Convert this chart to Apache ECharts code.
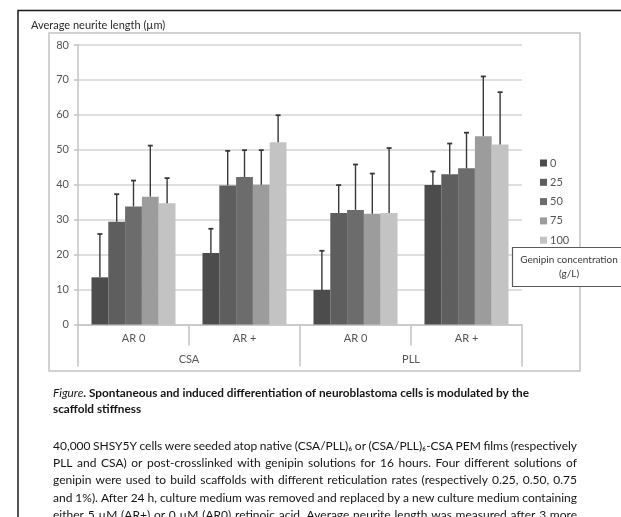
<!DOCTYPE html>
<html>
<head>
<meta charset="utf-8">
<title>Average neurite length</title>
<script src="https://cdn.jsdelivr.net/npm/echarts@6/dist/echarts.min.js"></script>
<style>
  html, body { margin: 0; padding: 0; background: #ffffff; }
  #chart { width: 621px; height: 517px; }
</style>
</head>
<body>
<div id="chart"></div>
<script>
// Conditions on the x axis: retinoic acid treatment (inner row) within each film type (outer row)
const treatments = ['AR 0', 'AR +', 'AR 0', 'AR +'];
const films = ['CSA', 'PLL'];

// Genipin concentrations (g/L), one bar series each
const concentrations = ['0', '25', '50', '75', '100'];

// Mean neurite length (µm) per condition, in the order of `treatments`
const mean0   = [13.5, 20.5,  9.9, 39.9];
const mean25  = [29.4, 39.8, 31.9, 43.0];
const mean50  = [33.8, 42.2, 32.8, 44.7];
const mean75  = [36.6, 40.0, 31.7, 53.9];
const mean100 = [34.7, 52.2, 31.9, 51.5];

// Standard deviation (µm), drawn as upper error bars
const sd0   = [12.4,  6.9, 11.2,  3.9];
const sd25  = [ 7.9,  9.9,  8.0,  8.8];
const sd50  = [ 7.4,  7.7, 13.0, 10.2];
const sd75  = [14.6,  9.9, 11.5, 17.1];
const sd100 = [ 7.2,  7.7, 18.6, 15.0];

// Value axis ticks
const yMin = 0, yMax = 80, yStep = 10;

// Caption
const captionTitleItalic = 'Figure';
const captionTitleBold = '. Spontaneous and induced differentiation of neuroblastoma cells is modulated by the';
const captionTitle2 = 'scaffold stiffness';
const captionBody = [
  '40,000 SHSY5Y cells were seeded atop native (CSA/PLL)\u2086 or (CSA/PLL)\u2086-CSA PEM films (respectively',
  'PLL and CSA) or post-crosslinked with genipin solutions for 16 hours. Four different solutions of',
  'genipin were used to build scaffolds with different reticulation rates (respectively 0.25, 0.50, 0.75',
  'and 1%). After 24 h, culture medium was removed and replaced by a new culture medium containing',
  'either 5 \u00b5M (AR+) or 0 \u00b5M (AR0) retinoic acid. Average neurite length was measured after 3 more'
];

const means = [mean0, mean25, mean50, mean75, mean100];
const sds = [sd0, sd25, sd50, sd75, sd100];
const barColors = ['#4c4c4c', '#5e5e5e', '#6c6c6c', '#9c9c9c', '#c3c3c3'];

const FONT = 'Lato, "Open Sans", sans-serif';
const CATEGORY_GAP = 0.243;

const chart = echarts.init(document.getElementById('chart'), null, { renderer: 'canvas' });

// Bars
const barSeries = concentrations.map((name, k) => ({
  name: name,
  type: 'bar',
  xAxisIndex: 0,
  yAxisIndex: 0,
  barGap: '0%',
  barCategoryGap: (CATEGORY_GAP * 100) + '%',
  itemStyle: { color: barColors[k] },
  data: means[k],
  z: 2
}));

// Upper error bars, placed over the matching bar of each group
const errorSeries = concentrations.map((name, k) => ({
  type: 'custom',
  xAxisIndex: 0,
  yAxisIndex: 0,
  silent: true,
  z: 3,
  encode: { x: 0, y: 1 },
  data: treatments.map((t, i) => [i, means[k][i], sds[k][i]]),
  renderItem: function (params, api) {
    const i = api.value(0);
    const m = api.value(1);
    const s = api.value(2);
    const base = api.coord([i, m]);
    const tip = api.coord([i, m + s]);
    const band = api.size([1, 0])[0];
    const bw = band * (1 - CATEGORY_GAP) / concentrations.length;
    const x = base[0] + (k - (concentrations.length - 1) / 2) * bw;
    return {
      type: 'group',
      children: [
        { type: 'line', shape: { x1: x, y1: base[1], x2: x, y2: tip[1] },
          style: { stroke: '#383838', lineWidth: 1.4 } },
        { type: 'line', shape: { x1: x - 2.5, y1: tip[1], x2: x + 2.5, y2: tip[1] },
          style: { stroke: '#383838', lineWidth: 1.8 } }
      ]
    };
  }
}));

// Justified caption lines: measure words with the same font and spread the spaces
const measureCtx = document.createElement('canvas').getContext('2d');
function justifiedLine(text, x0, x1, y, font) {
  measureCtx.font = font;
  const words = text.split(' ');
  const widths = words.map(w => measureCtx.measureText(w).width);
  const total = widths.reduce((a, b) => a + b, 0);
  const gap = words.length > 1 ? (x1 - x0 - total) / (words.length - 1) : 0;
  const out = [];
  let x = x0;
  words.forEach((w, j) => {
    out.push({
      type: 'text', x: x, y: y, z: 10, silent: true,
      style: { text: w, font: font, fill: '#141414', textVerticalAlign: 'middle', verticalAlign: 'middle' }
    });
    x += widths[j] + gap;
  });
  return out;
}

const bodyFont = 'normal 12px ' + FONT;
const caption = [];
const lineYs = [446, 463.3, 480.6, 497.9, 515.2];
captionBody.forEach((line, i) => {
  caption.push.apply(caption, justifiedLine(line, 53, 577, lineYs[i], bodyFont));
});

const graphics = [
  // page frame (top and left edges)
  { type: 'polyline', z: 0, silent: true,
    shape: { points: [[18, 517], [18, 10.5], [621, 10.5]] },
    style: { stroke: '#1a1a1a', lineWidth: 1.5, fill: null } },
  // chart area border
  { type: 'rect', z: 0, silent: true,
    shape: { x: 49, y: 33, width: 531, height: 338 },
    style: { stroke: '#c4c4c4', lineWidth: 1.5, fill: null } },
  // value axis title
  { type: 'text', x: 31, y: 25, z: 10, silent: true,
    style: { text: 'Average neurite length (\u00b5m)', font: 'normal 11px ' + FONT, fill: '#2a2a2a',
             textVerticalAlign: 'middle', verticalAlign: 'middle' } },
  // legend title box
  { type: 'rect', z: 20, silent: true,
    shape: { x: 512.5, y: 247.5, width: 120, height: 39 },
    style: { stroke: '#5a5a5a', lineWidth: 1.2, fill: '#ffffff' } },
  { type: 'text', x: 569, y: 259.5, z: 21, silent: true,
    style: { text: 'Genipin concentration', font: 'normal 10px ' + FONT, fill: '#3a3a3a',
             textAlign: 'center', align: 'center', textVerticalAlign: 'middle', verticalAlign: 'middle' } },
  { type: 'text', x: 569, y: 273.5, z: 21, silent: true,
    style: { text: '(g/L)', font: 'normal 10px ' + FONT, fill: '#3a3a3a',
             textAlign: 'center', align: 'center', textVerticalAlign: 'middle', verticalAlign: 'middle' } },
  // caption heading
  { type: 'text', x: 53, y: 393, z: 10, silent: true,
    style: {
      text: '{i|' + captionTitleItalic + '}{b|' + captionTitleBold + '}',
      textVerticalAlign: 'middle', verticalAlign: 'middle',
      rich: {
        i: { fontStyle: 'italic', fontSize: 11.8, fontFamily: FONT, fill: '#141414', color: '#141414' },
        b: { fontWeight: 'bold', fontSize: 11.8, fontFamily: FONT, fill: '#141414', color: '#141414' }
      }
    } },
  { type: 'text', x: 53, y: 409.5, z: 10, silent: true,
    style: { text: captionTitle2, font: 'bold 11.8px ' + FONT, fill: '#141414',
             textVerticalAlign: 'middle', verticalAlign: 'middle' } }
].concat(caption);

const axisGray = '#c4c4c4';
const labelGray = '#555555';

chart.setOption({
  animation: false,
  backgroundColor: '#ffffff',
  textStyle: { fontFamily: FONT },
  grid: { left: 78, right: 99, top: 45, bottom: 192.5, containLabel: false },
  legend: {
    data: concentrations,
    orient: 'vertical',
    left: 540,
    top: 157.5,
    padding: 0,
    itemWidth: 7,
    itemHeight: 7,
    itemGap: 8.3,
    icon: 'rect',
    selectedMode: false,
    textStyle: { fontSize: 11, color: labelGray, fontFamily: FONT, padding: [0, 0, 0, -2] }
  },
  xAxis: [
    {
      type: 'category',
      data: treatments,
      position: 'bottom',
      axisLine: { show: true, lineStyle: { color: axisGray, width: 1.5 } },
      axisTick: { show: true, length: 21, lineStyle: { color: axisGray, width: 1.5 } },
      axisLabel: { fontSize: 11, color: labelGray, margin: 8, fontFamily: FONT },
      splitLine: { show: false }
    },
    {
      type: 'category',
      data: films,
      position: 'bottom',
      axisLine: { show: false },
      axisTick: { show: true, length: 42, lineStyle: { color: axisGray, width: 1.5 } },
      axisLabel: { fontSize: 11, color: labelGray, margin: 29, fontFamily: FONT },
      splitLine: { show: false }
    }
  ],
  yAxis: {
    type: 'value',
    min: yMin,
    max: yMax,
    interval: yStep,
    axisLine: { show: true, lineStyle: { color: axisGray, width: 1.5 } },
    axisTick: { show: true, length: 4, lineStyle: { color: axisGray, width: 1.5 } },
    axisLabel: { fontSize: 11, color: labelGray, margin: 9, fontFamily: FONT },
    splitLine: { show: true, lineStyle: { color: '#d4d4d4', width: 1.5 } }
  },
  graphic: graphics,
  series: barSeries.concat(errorSeries)
});
</script>
</body>
</html>
